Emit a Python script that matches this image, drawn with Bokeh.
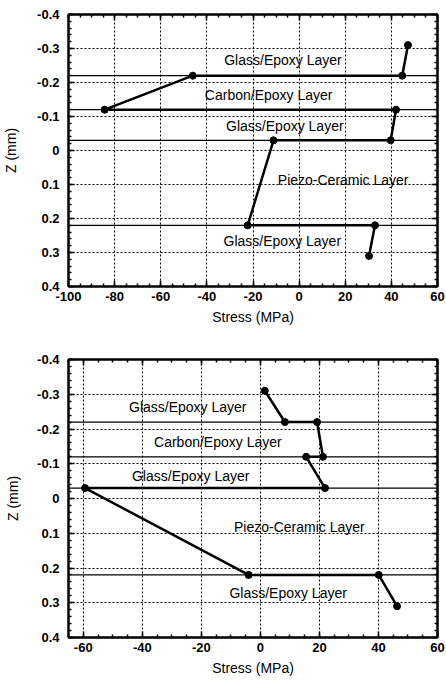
from bokeh.plotting import figure
from bokeh.models import Range1d, LinearAxis, FixedTicker, CustomJSTickFormatter, Span
from bokeh.layouts import column
from bokeh.core.properties import value
from bokeh.embed import file_html
from bokeh.resources import INLINE

# ---- data ----
z_points = [-0.31, -0.22, -0.22, -0.12, -0.12, -0.03, -0.03, 0.22, 0.22, 0.31]
top_stress = [47.2, 44.7, -46.1, -84.3, 42.0, 39.7, -11.1, -22.3, 32.9, 30.3]
bottom_stress = [1.5, 8.3, 19.2, 21.2, 15.5, 21.9, -59.4, -4.0, 40.1, 46.3]
layer_bounds = [-0.22, -0.12, -0.03, 0.22]

layer_names = ["Glass/Epoxy Layer", "Carbon/Epoxy Layer", "Glass/Epoxy Layer",
               "Piezo-Ceramic Layer", "Glass/Epoxy Layer"]
top_label_x = [-7.0, -13.2, -6.2, 19.1, -7.3]
top_label_z = [-0.267, -0.164, -0.071, 0.088, 0.267]
bottom_label_x = [-24.6, -14.4, -23.6, 13.2, 9.4]
bottom_label_z = [-0.262, -0.164, -0.066, 0.081, 0.273]

top_x_ticks = [-100, -80, -60, -40, -20, 0, 20, 40, 60]
top_x_labels = ["-100", "-80", "-60", "-40", "-20", "0", "20", "40", "60"]
bottom_x_ticks = [-60, -40, -20, 0, 20, 40, 60]
bottom_x_labels = ["-60", "-40", "-20", "0", "20", "40", "60"]
z_ticks = [-0.4, -0.3, -0.2, -0.1, 0.0, 0.1, 0.2, 0.3, 0.4]
z_tick_labels = ["-0.4", "-0.3", "-0.2", "-0.1", "0", "0.1", "0.2", "0.3", "0.4"]

FONT = "Liberation Sans"

LOOKUP = """
    for (let i = 0; i < vals.length; i++) { if (Math.abs(vals[i] - tick) < 1e-6) return labs[i]; }
    return '';
"""


def make_fig(stress, lab_x, lab_z, xr, xticks, xlabels, height, bl, bt, bb, xstand, xlstand, ylstand):
    p = figure(width=446, height=height, x_range=Range1d(*xr), y_range=Range1d(0.4, -0.4),
               output_backend="svg", toolbar_location=None,
               min_border_left=bl, min_border_right=9, min_border_top=bt, min_border_bottom=bb,
               x_axis_label="Stress (MPa)", y_axis_label="Z (mm)")
    p.outline_line_color = "black"
    p.outline_line_width = 2

    xminor = [v for v in range(-100, 65, 5) if xr[0] <= v <= xr[1]]
    zminor = [round(-0.4 + 0.02 * i, 2) for i in range(41)]
    xt = FixedTicker(ticks=xticks, minor_ticks=xminor)
    yt = FixedTicker(ticks=z_ticks, minor_ticks=zminor)

    p.xaxis.ticker = xt
    p.yaxis.ticker = yt
    p.xaxis.formatter = CustomJSTickFormatter(args=dict(vals=xticks, labs=xlabels), code=LOOKUP)
    p.yaxis.formatter = CustomJSTickFormatter(args=dict(vals=z_ticks, labs=z_tick_labels), code=LOOKUP)

    blank = CustomJSTickFormatter(code="return '';")
    top_ax = LinearAxis(ticker=xt, formatter=blank, major_label_standoff=0)
    right_ax = LinearAxis(ticker=yt, formatter=blank, major_label_standoff=0)
    p.add_layout(top_ax, "above")
    p.add_layout(right_ax, "right")

    for ax in p.xaxis + p.yaxis:
        ax.axis_line_width = 2
        ax.axis_line_color = "black"
        ax.major_tick_in = 6
        ax.major_tick_out = 0
        ax.minor_tick_in = 3
        ax.minor_tick_out = 0
        ax.major_tick_line_width = 1.5
        ax.minor_tick_line_width = 1.5
        ax.major_tick_line_color = "black"
        ax.minor_tick_line_color = "black"
        ax.major_label_text_font = FONT
        ax.major_label_text_font_style = "bold"
        ax.major_label_text_color = "black"
        ax.major_label_text_font_size = "13px"
        ax.axis_label_text_font = FONT
        ax.axis_label_text_font_style = "normal"
        ax.axis_label_text_font_size = "14px"
        ax.axis_label_text_color = "black"

    p.xaxis[0].major_label_standoff = xstand
    p.xaxis[0].axis_label_standoff = xlstand
    p.yaxis[0].major_label_standoff = 9
    p.yaxis[0].axis_label_standoff = ylstand

    p.xgrid.ticker = xt
    p.ygrid.ticker = yt
    for g in (p.xgrid, p.ygrid):
        g.grid_line_color = "black"
        g.grid_line_dash = "2 2"
        g.grid_line_width = 1

    for zb in layer_bounds:
        p.add_layout(Span(location=zb, dimension="width", line_color="black", line_width=1.2))

    p.line(stress, z_points, line_color="black", line_width=2.5)
    p.scatter(stress, z_points, size=7, color="black")

    p.text(x=lab_x, y=lab_z, text=layer_names, text_font=value(FONT), text_font_size=value("14px"),
           text_align="center", text_baseline="middle", text_color="black")
    return p


p1 = make_fig(top_stress, top_label_x, top_label_z, (-100, 60), top_x_ticks, top_x_labels,
              340, 67, 14, 54, 2, 25, 15)
p2 = make_fig(bottom_stress, bottom_label_x, bottom_label_z, (-65, 60), bottom_x_ticks, bottom_x_labels,
              344, 65, 19, 47, 11, 16, 13)

layout = column(p1, p2)
open("out.html", "w").write(file_html(layout, INLINE))
